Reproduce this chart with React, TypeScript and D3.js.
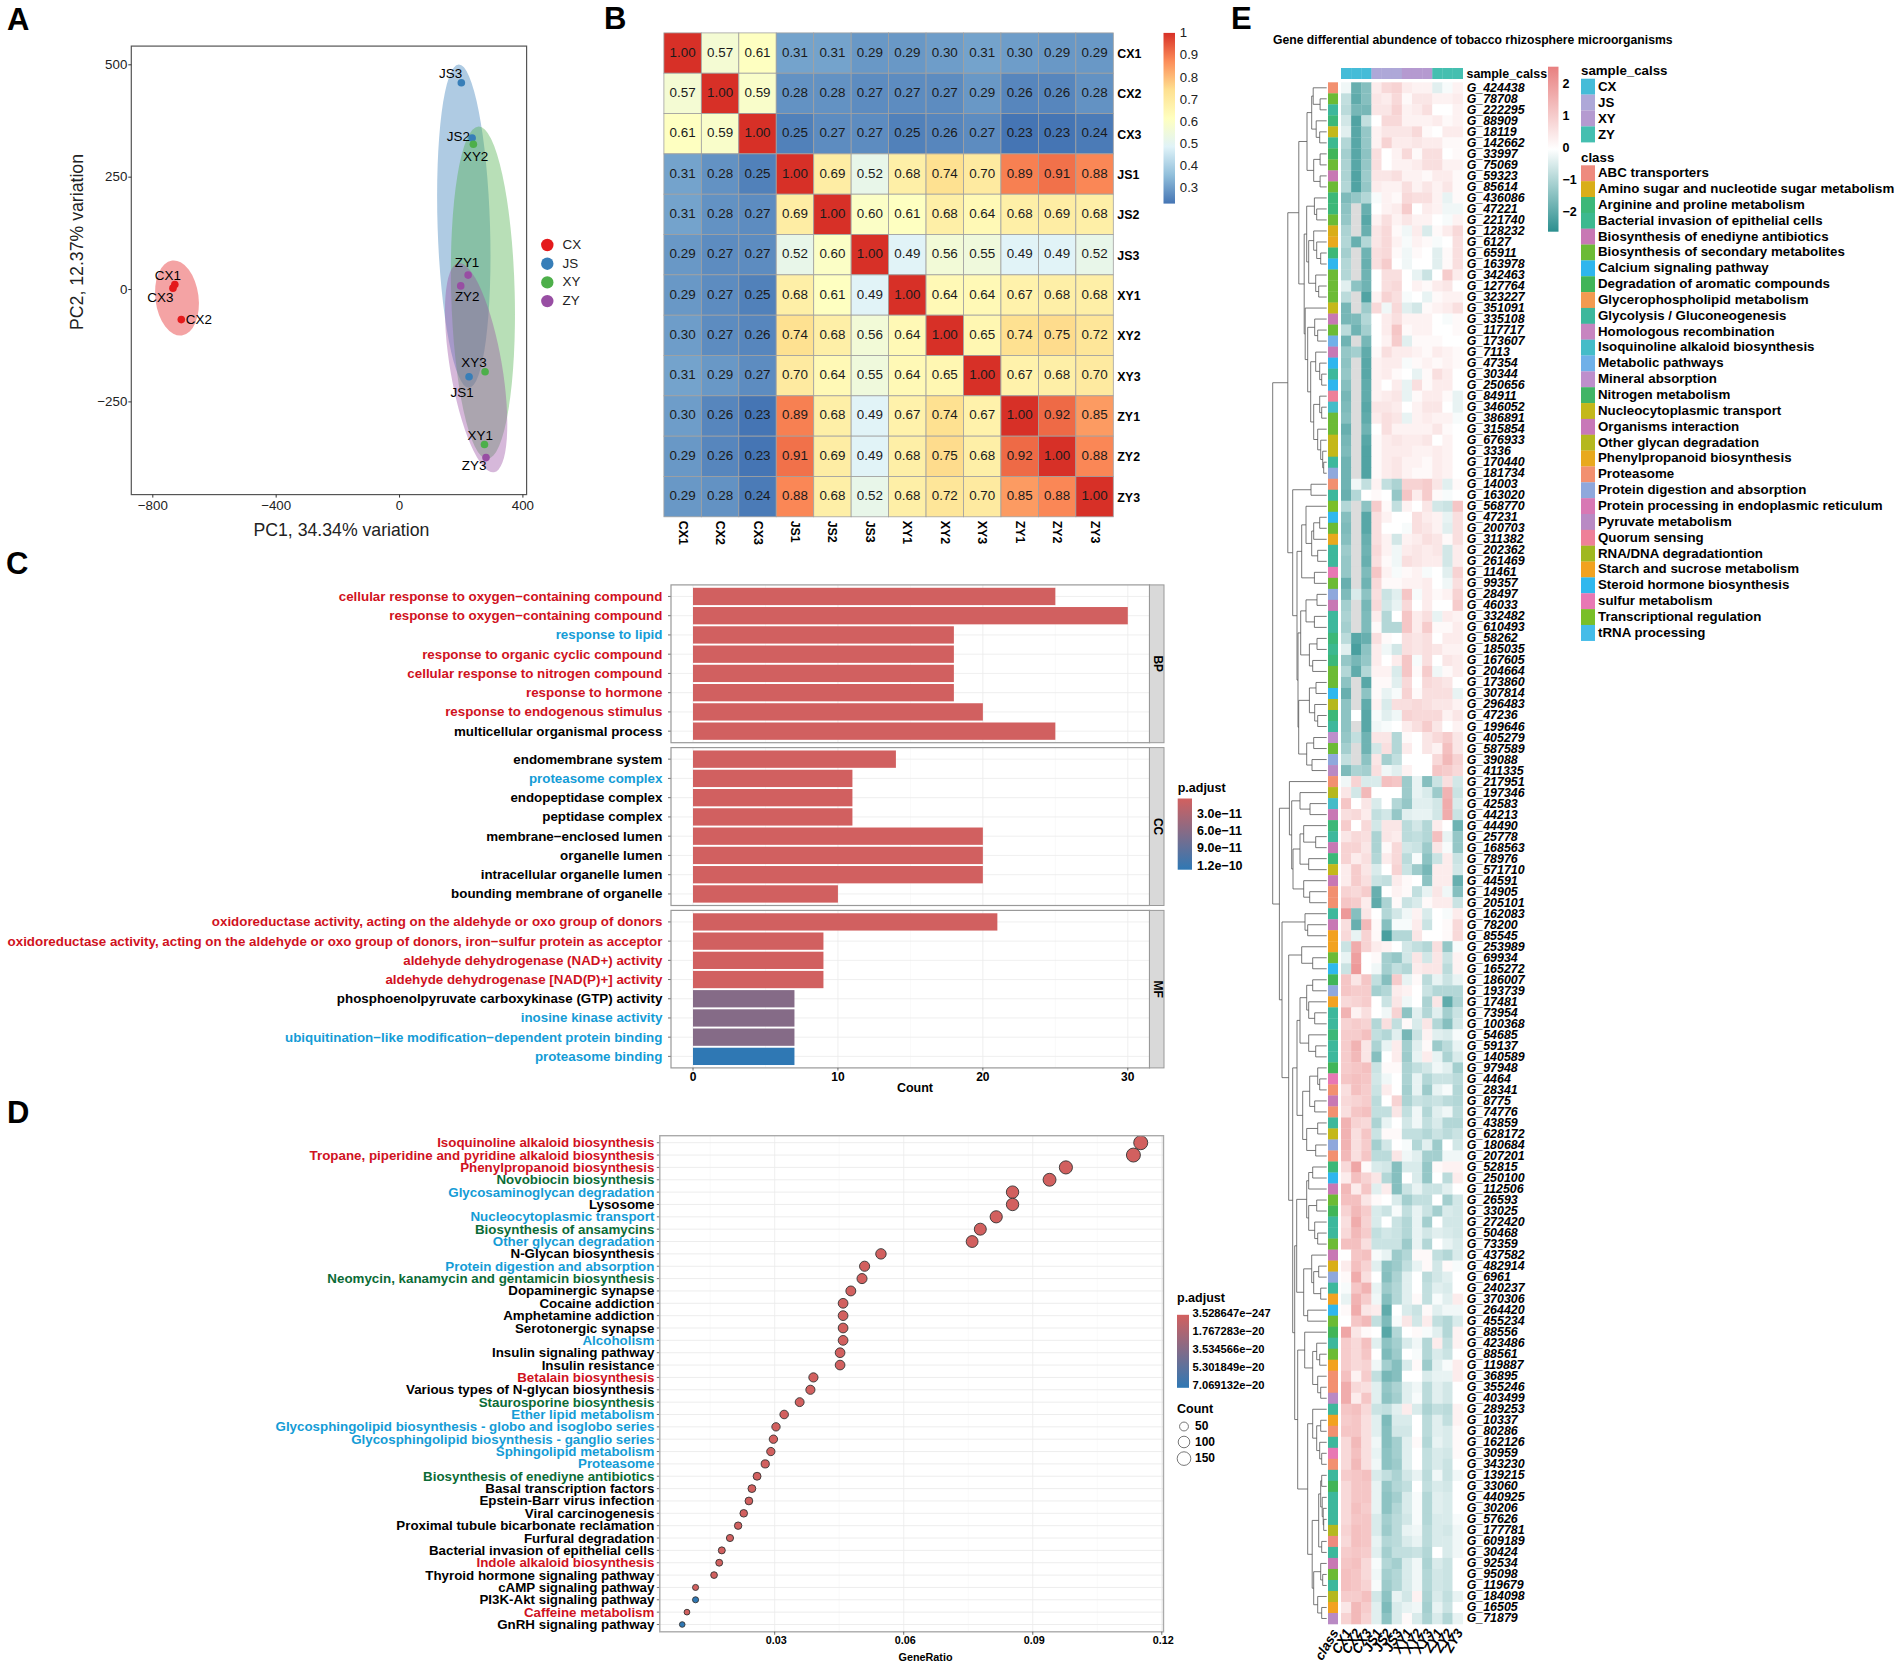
import React, { useEffect, useRef } from 'react';
import * as d3 from 'd3';

const FONT = '"Liberation Sans", Arial, sans-serif';

// ---- Panel A data
const pcaSamples = ['CX1', 'CX2', 'CX3', 'JS1', 'JS2', 'JS3', 'XY1', 'XY2', 'XY3', 'ZY1', 'ZY2', 'ZY3'];
const pcaGroups = ['CX', 'JS', 'XY', 'ZY'];
const pcaColors = ['#E41A1C', '#377EB8', '#4DAF4A', '#984EA3'];
const pc1 = [-727, -706, -733, 227, 237, 202, 277, 241, 279, 224, 200, 282];
const pc2 = [10, -68, 2, -195, 336, 459, -346, 322, -184, 31, 7, -375];
const pcaLabelDx = [-7, 17.6, -12.6, -6.9, -13.8, -10.7, -4.2, 2.3, -11.1, -1.1, 6.5, -11.9];
const pcaLabelDy = [-9.3, -0.4, 9.6, 16, -1.8, -9.3, -9.3, 12.5, -9.3, -12.1, 10.4, 7.9];
// group ellipses: centre, radii (data units), tilt
const ellipseCx = [-720, 210, 272, 250];
const ellipseCy = [-20, 140, -8, -175];
const ellipseRx = [70, 85, 103, 84];
const ellipseRy = [84, 360, 370, 236];
const ellipseTilt = [-7.4, -1.8, -1.5, -9.7];

// ---- Panel B data
const corr = [
  [1.0, 0.57, 0.61, 0.31, 0.31, 0.29, 0.29, 0.3, 0.31, 0.3, 0.29, 0.29],
  [0.57, 1.0, 0.59, 0.28, 0.28, 0.27, 0.27, 0.27, 0.29, 0.26, 0.26, 0.28],
  [0.61, 0.59, 1.0, 0.25, 0.27, 0.27, 0.25, 0.26, 0.27, 0.23, 0.23, 0.24],
  [0.31, 0.28, 0.25, 1.0, 0.69, 0.52, 0.68, 0.74, 0.7, 0.89, 0.91, 0.88],
  [0.31, 0.28, 0.27, 0.69, 1.0, 0.6, 0.61, 0.68, 0.64, 0.68, 0.69, 0.68],
  [0.29, 0.27, 0.27, 0.52, 0.6, 1.0, 0.49, 0.56, 0.55, 0.49, 0.49, 0.52],
  [0.29, 0.27, 0.25, 0.68, 0.61, 0.49, 1.0, 0.64, 0.64, 0.67, 0.68, 0.68],
  [0.3, 0.27, 0.26, 0.74, 0.68, 0.56, 0.64, 1.0, 0.65, 0.74, 0.75, 0.72],
  [0.31, 0.29, 0.27, 0.7, 0.64, 0.55, 0.64, 0.65, 1.0, 0.67, 0.68, 0.7],
  [0.3, 0.26, 0.23, 0.89, 0.68, 0.49, 0.67, 0.74, 0.67, 1.0, 0.92, 0.85],
  [0.29, 0.26, 0.23, 0.91, 0.69, 0.49, 0.68, 0.75, 0.68, 0.92, 1.0, 0.88],
  [0.29, 0.28, 0.24, 0.88, 0.68, 0.52, 0.68, 0.72, 0.7, 0.85, 0.88, 1.0],
];
const corrTicks = [1, 0.9, 0.8, 0.7, 0.6, 0.5, 0.4, 0.3];
const rdYlBu = ['#4575B4', '#91BFDB', '#E0F3F8', '#FFFFBF', '#FEE090', '#FC8D59', '#D73027'];

// ---- Panel C data
const labelColors: Record<string, string> = { r: '#D0121E', b: '#149CD6', k: '#000000', g: '#0B6B36' };
const goBP = ['cellular response to oxygen−containing compound', 'response to oxygen−containing compound', 'response to lipid', 'response to organic cyclic compound', 'cellular response to nitrogen compound', 'response to hormone', 'response to endogenous stimulus', 'multicellular organismal process'];
const goBPCount = [25, 30, 18, 18, 18, 18, 20, 25];
const goBPTone = 'rrbrrrrk';
const goCC = ['endomembrane system', 'proteasome complex', 'endopeptidase complex', 'peptidase complex', 'membrane−enclosed lumen', 'organelle lumen', 'intracellular organelle lumen', 'bounding membrane of organelle'];
const goCCCount = [14, 11, 11, 11, 20, 20, 20, 10];
const goCCTone = 'kbkkkkkk';
const goMF = ['oxidoreductase activity, acting on the aldehyde or oxo group of donors', 'oxidoreductase activity, acting on the aldehyde or oxo group of donors, iron−sulfur protein as acceptor', 'aldehyde dehydrogenase (NAD+) activity', 'aldehyde dehydrogenase [NAD(P)+] activity', 'phosphoenolpyruvate carboxykinase (GTP) activity', 'inosine kinase activity', 'ubiquitination−like modification−dependent protein binding', 'proteasome binding'];
const goMFCount = [21, 9, 9, 9, 7, 7, 7, 7];
const goMFTone = 'rrrrkbbb';
const goMFPadj = [0.5e-11, 0.5e-11, 0.5e-11, 0.5e-11, 6.2e-11, 6.2e-11, 6.2e-11, 1.27e-10];
const goFacets = ['BP', 'CC', 'MF'];
const goTicks = [0, 10, 20, 30];
const goPadjTicks = [3e-11, 6e-11, 9e-11, 1.2e-10];
const goPadjLabels = ['3.0e−11', '6.0e−11', '9.0e−11', '1.2e−10'];

// ---- Panel D data
const kegg = ['Isoquinoline alkaloid biosynthesis', 'Tropane, piperidine and pyridine alkaloid biosynthesis', 'Phenylpropanoid biosynthesis', 'Novobiocin biosynthesis', 'Glycosaminoglycan degradation', 'Lysosome', 'Nucleocytoplasmic transport', 'Biosynthesis of ansamycins', 'Other glycan degradation', 'N-Glycan biosynthesis', 'Protein digestion and absorption', 'Neomycin, kanamycin and gentamicin biosynthesis', 'Dopaminergic synapse', 'Cocaine addiction', 'Amphetamine addiction', 'Serotonergic synapse', 'Alcoholism', 'Insulin signaling pathway', 'Insulin resistance', 'Betalain biosynthesis', 'Various types of N-glycan biosynthesis', 'Staurosporine biosynthesis', 'Ether lipid metabolism', 'Glycosphingolipid biosynthesis - globo and isoglobo series', 'Glycosphingolipid biosynthesis - ganglio series', 'Sphingolipid metabolism', 'Proteasome', 'Biosynthesis of enediyne antibiotics', 'Basal transcription factors', 'Epstein-Barr virus infection', 'Viral carcinogenesis', 'Proximal tubule bicarbonate reclamation', 'Furfural degradation', 'Bacterial invasion of epithelial cells', 'Indole alkaloid biosynthesis', 'Thyroid hormone signaling pathway', 'cAMP signaling pathway', 'PI3K-Akt signaling pathway', 'Caffeine metabolism', 'GnRH signaling pathway'];
const keggTone = 'rrrgbkbgbkbgkkkkbkkrkgbbbbbgkkkkkkrkkkrk';
const keggRatio = [0.1151, 0.1134, 0.0977, 0.0939, 0.0853, 0.0853, 0.0815, 0.0778, 0.0759, 0.0547, 0.0509, 0.0503, 0.0477, 0.0459, 0.0459, 0.0459, 0.0459, 0.0452, 0.0452, 0.039, 0.0383, 0.0358, 0.0322, 0.0303, 0.0297, 0.0291, 0.0278, 0.0259, 0.0247, 0.024, 0.0228, 0.0215, 0.0196, 0.0177, 0.0171, 0.0159, 0.0116, 0.0116, 0.0096, 0.0085];
const keggCount = [161, 159, 137, 131, 119, 119, 114, 109, 106, 77, 71, 70, 67, 64, 64, 64, 64, 63, 63, 55, 54, 50, 45, 42, 42, 41, 39, 36, 35, 34, 32, 30, 27, 25, 24, 22, 16, 16, 13, 12];
const keggBlue = ['PI3K-Akt signaling pathway', 'GnRH signaling pathway'];
const keggTicks = [0.03, 0.06, 0.09, 0.12];
const keggMinor = [0.015, 0.045, 0.075, 0.105];
const keggPadjLabels = ['3.528647e−247', '1.767283e−20', '3.534566e−20', '5.301849e−20', '7.069132e−20'];
const keggSizeLegend = [50, 100, 150];

// ---- Panel E data
const geneIds = [424438, 78708, 222295, 88909, 18119, 142662, 33997, 75069, 59323, 85614, 436086, 47221, 221740, 128232, 6127, 65911, 163978, 342463, 127764, 323227, 351091, 335108, 117717, 173607, 7113, 47354, 30344, 250656, 84911, 346052, 386891, 315854, 676933, 3336, 170440, 181734, 14003, 163020, 568770, 47231, 200703, 311382, 202362, 261469, 11461, 99357, 28497, 46033, 332482, 610493, 58262, 185035, 167605, 204664, 173860, 307814, 296483, 47236, 199646, 405279, 587589, 39088, 411335, 217951, 197346, 42583, 44213, 44490, 25778, 168563, 78976, 571710, 44591, 14905, 205101, 162083, 78200, 85545, 253989, 69934, 165272, 186007, 193739, 17481, 73954, 100368, 54685, 59137, 140589, 97948, 4464, 28341, 8775, 74776, 43859, 628172, 180684, 207201, 52815, 250100, 112506, 26593, 33025, 272420, 50468, 73359, 437582, 482914, 6961, 240237, 370306, 264420, 455234, 88556, 423486, 88561, 119887, 36895, 355246, 403499, 289253, 10337, 80286, 162126, 30959, 343230, 139215, 33060, 440925, 30206, 57626, 177781, 609189, 30424, 92534, 95098, 119679, 184098, 16505, 71879];
const sampleGroups = ['CX', 'JS', 'XY', 'ZY'];
const sampleGroupColors = ['#45BCD8', '#AEA8D8', '#B59AD0', '#45BFB0'];
const classNames = ['ABC transporters', 'Amino sugar and nucleotide sugar metabolism', 'Arginine and proline metabolism', 'Bacterial invasion of epithelial cells', 'Biosynthesis of enediyne antibiotics', 'Biosynthesis of secondary metabolites', 'Calcium signaling pathway', 'Degradation of aromatic compounds', 'Glycerophospholipid metabolism', 'Glycolysis / Gluconeogenesis', 'Homologous recombination', 'Isoquinoline alkaloid biosynthesis', 'Metabolic pathways', 'Mineral absorption', 'Nitrogen metabolism', 'Nucleocytoplasmic transport', 'Organisms interaction', 'Other glycan degradation', 'Phenylpropanoid biosynthesis', 'Proteasome', 'Protein digestion and absorption', 'Protein processing in endoplasmic reticulum', 'Pyruvate metabolism', 'Quorum sensing', 'RNA/DNA degradationtion', 'Starch and sucrose metabolism', 'Steroid hormone biosynthesis', 'sulfur metabolism', 'Transcriptional regulation', 'tRNA processing'];
const classColors = ['#EE8A7E', '#D9AE18', '#3CB878', '#3DB98F', '#C878B4', '#6CBB35', '#2FB6EE', '#41B558', '#F39A50', '#3DB89C', '#C785C0', '#45BCC8', '#70B0E8', '#BE8FCC', '#41B566', '#C4B81A', '#C878B8', '#B5B81E', '#E8A91E', '#F29070', '#8FA8DC', '#D878B4', '#B98AC4', '#EE8098', '#A0B820', '#F2A220', '#30B8EE', '#E878B4', '#7ABF28', '#45BCE8'];
const rowClass = [19, 5, 9, 2, 15, 3, 7, 5, 4, 5, 2, 2, 5, 1, 18, 2, 6, 5, 5, 5, 15, 4, 5, 12, 4, 6, 9, 6, 23, 11, 5, 5, 15, 15, 9, 20, 19, 9, 28, 26, 5, 18, 9, 9, 27, 5, 20, 4, 9, 9, 2, 3, 2, 5, 5, 26, 17, 2, 9, 13, 5, 20, 22, 19, 17, 11, 4, 2, 9, 4, 2, 15, 4, 19, 19, 9, 4, 25, 25, 5, 26, 7, 20, 25, 9, 9, 2, 9, 9, 7, 27, 19, 4, 19, 9, 15, 20, 19, 2, 6, 4, 5, 7, 9, 9, 5, 4, 1, 20, 9, 25, 6, 5, 7, 9, 5, 25, 19, 19, 22, 9, 25, 19, 9, 27, 19, 9, 7, 9, 9, 9, 17, 0, 9, 4, 5, 9, 17, 25, 22];
const heatTicks = [2, 1, 0, -1, -2];
const heatLabels = ['2', '1', '0', '−1', '−2'];
const _ = null;
const heatValues: (number | null)[][] = [
  [-.2, -2, -1.6, .3, .6, .7, .3, .2, .2, -.4, -.1, .2],
  [-.8, -2.1, -1.6, .4, .3, .6, .1, .4, .4, .2, .2, .3],
  [-.9, -1.8, -1.8, .4, .4, .7, .2, .3, .5, 0, 0, .2],
  [-.6, -2.3, -.8, 0, .6, .6, .2, .2, .2, .3, .1, .2],
  [-.4, -2.2, -1.4, .2, .4, .4, .4, .6, .1, 0, .3, .3],
  [-1, -2.2, -1.4, .2, .7, .3, .3, .4, .3, .3, .1, .1],
  [-1.2, -2.2, -1.5, .5, 0, .2, .6, .1, .5, .5, 0, .1],
  [-1.1, -2.2, -1.4, .5, 0, .2, .2, .3, .5, .5, .2, .2],
  [-1.1, -2.3, -1.3, .4, .4, .5, .2, .2, .1, .3, .3, .1],
  [-1, -2.3, -1.4, .3, .2, .2, .5, .2, .4, .2, .4, .1],
  [-1.7, -1.4, -1, -.1, .2, .1, .6, .5, .5, .2, -.3, .1],
  [-1.5, _, -2, 0, .2, .3, .8, 0, .3, .2, -.2, -.2],
  [-1.4, _, -2.2, .2, .5, .2, .4, .2, .2, 0, -.1, .2],
  [-1.1, _, -2, .4, .6, .1, -.2, .3, -.5, .1, .3, .6],
  [-1, -2, -1, .4, .6, .2, -.1, .2, .1, -.1, 0, .5],
  [-1.2, _, -1.9, .5, .6, .1, -.2, .1, 0, -.4, .1, .5],
  [-1, _, -2, .5, .8, 0, -.2, 0, 0, -.4, .1, .5],
  [-1, _, -1.9, 0, .5, .5, 0, -.3, -.7, 0, .8, .3],
  [-.4, -1.5, -1.9, 0, .5, .6, 0, .2, .1, .3, .4, 0],
  [-.9, _, -2.3, .2, .7, .5, -.1, 0, -.3, .1, .2, .2],
  [-1.8, _, -1.3, .6, -.2, .6, -.4, -.6, .1, .2, .3, .5],
  [-1.8, -1.7, -1, 0, .3, .5, .2, .2, .2, 0, -.1, .1],
  [-.9, -1.9, -1.2, 0, .3, .9, .1, .2, .2, 0, 0, .1],
  [-1.9, _, -1.8, 0, .2, .8, -.4, .1, .1, .1, 0, 0],
  [-1.4, -1.2, -2.1, .1, .5, .3, .3, .2, .1, .3, .2, .1],
  [-1.5, _, -2.2, .2, .3, .3, -.1, .1, .2, .1, .2, .1],
  [-1.4, _, -2.2, .2, .3, .1, 0, -.3, .1, .5, .3, 0],
  [-1.6, _, -2.1, .2, 0, .3, -.3, .5, .1, .3, .3, 0],
  [-1.8, _, -2.1, .2, .3, .4, -.3, .1, .3, .3, .1, -.3],
  [-1.7, _, -2.2, .4, .4, .3, 0, .2, .4, .4, 0, -.3],
  [-1.6, _, -2.1, .3, .5, .4, -.3, .2, .3, .2, .2, -.1],
  [-2, _, -1.9, 0, .5, .2, .2, .2, .2, .4, .1, 0],
  [-1.8, _, -2.2, .1, .3, .4, .3, .3, .4, 0, .2, 0],
  [-1.7, _, -2.3, .1, .3, .3, .3, .2, .2, .3, .2, 0],
  [-1.9, _, -2.3, .1, .3, .4, .2, .2, .1, .3, .2, 0],
  [-1.9, _, -2.3, .1, .3, .4, .2, .1, .1, .3, .2, 0],
  [-1.9, -.2, -.8, .2, -.8, -1.1, .7, .7, .8, .4, -.4, .1],
  [-2, -1, 0, .1, 0, -1.4, .9, .3, .8, .1, -.1, 0],
  [-1, _, -1.5, .8, .1, -.8, .2, 0, .4, -.6, -.7, .9],
  [-1.6, _, -2.2, .5, .2, 0, 0, .5, .3, .2, -.3, .5],
  [-1.7, _, -2.2, .5, 0, 0, -.1, .5, .4, .2, -.4, .5],
  [-1.6, _, -2, .5, .2, -.6, .2, .3, .5, .4, .1, .5],
  [-1.3, _, -1.9, .6, .2, -.2, .3, .4, .3, .4, -.6, .3],
  [-1.4, _, -2, .5, .1, -.2, .5, .4, .3, .3, -.6, .3],
  [-1.4, _, -1.7, .9, .2, -.1, .1, .2, -.1, 0, -.4, .7],
  [-2, _, -1.9, .6, .1, .1, .2, .2, .3, 0, -.2, .5],
  [-1.7, -.5, -1.5, .5, -.7, -.4, .9, -.1, .3, .1, .2, .7],
  [-1.2, _, -1.8, .6, -.6, -.3, .6, 0, .3, 0, 0, .8],
  [-1.1, _, -1.7, .3, -1, 0, .9, .3, .5, -.3, .3, .2],
  [-1.2, _, -1.7, .1, -1, -1, .9, .3, .8, .1, .1, .3],
  [-.9, -2.2, -2, .5, .1, 0, .5, .4, .5, 0, .3, .3],
  [-.4, -2.4, -1.5, .3, -.2, -.6, .5, .4, .5, .4, .2, .2],
  [-1.4, -1.8, -1.4, .3, 0, .3, .9, -.1, .5, 0, .4, .3],
  [-1, -2.1, -1, .2, .2, -.5, .9, .1, .8, -.2, .1, .3],
  [-1.5, _, -2.2, .1, .1, -.4, .6, 0, .6, .5, .4, 0],
  [-2, _, -1.5, .1, -.3, -.1, .7, .1, .5, .5, .5, -.3],
  [-1.5, _, -2.1, .2, -.5, .5, .5, .6, .5, .4, .4, .2],
  [-1.5, 0, -2.2, -.1, -.4, -.2, .7, .6, .6, .6, .2, .4],
  [-1.5, _, -2.2, -.2, -.1, 0, .3, .5, .8, .4, 0, .2],
  [-1.4, -.8, -1.9, .4, .4, -1, .1, 0, .4, .6, .8, .4],
  [-1.2, _, -1.9, -.6, .5, -1, .3, 0, .4, .2, 1, .4],
  [-.8, _, -1.5, .4, -1.2, -.8, 0, 0, 0, .6, 1.1, .7],
  [-1.7, -1.1, -1.2, .5, -.2, -.4, .2, 0, 0, .9, .8, .6],
  [-.2, .7, -.5, -.5, 1, .9, -1.3, -.3, -1.6, -.7, .5, -.6],
  [.4, -.6, 1.1, 0, 0, 0, -1.3, -.3, -.5, -1.3, 1.2, -.7],
  [.9, 0, .4, -.5, 0, -1, -1.4, -.4, -.4, -.6, 1.3, -.5],
  [.5, .6, .3, -.8, -.6, -1.4, -.4, -.3, -.3, -.6, 1.3, -.7],
  [.8, 0, .6, -.6, .4, .4, -.9, -.6, -1, .3, 0, -1.9],
  [.4, .6, .5, -1.1, .4, .3, -.9, -.8, -1, 1, -.3, -1.4],
  [.7, .7, .4, -1.1, .1, .6, -.6, -.7, -1.3, .4, -.1, -1.4],
  [.7, .3, .5, -1, .3, .6, -.9, -.1, -1.5, -.7, .3, -.7],
  [.3, .8, .4, -.5, 0, .7, -.7, -1.3, -1.8, .3, .3, -.6],
  [.3, .8, .5, -.7, -.8, .3, .1, 0, -1.5, .3, .3, -2],
  [.7, .6, .8, -2, 0, .2, .1, -.8, -.3, .4, -.2, -1.6],
  [.9, .8, .3, -2.1, -1.1, .1, -.7, -.5, .1, .3, .3, -.7],
  [1.6, -1.6, .4, 0, -1, -.6, -.2, .2, -.5, 0, -.1, .3],
  [.5, -2, 1.1, .1, -1.6, -.1, -.1, .3, -.7, 0, .1, .6],
  [.6, -.3, .7, .1, -2.4, -1, -1, .4, 0, 0, .1, .6],
  [-.7, 1.3, .7, .3, .2, 0, -.6, -.8, -1, .5, -1.4, -.1],
  [-.3, 1.5, 0, .1, -1.2, -1.4, -.6, .4, -.6, .4, -.7, .2],
  [-.7, 1.6, 0, -.2, -1.2, -.8, -1, .3, .4, .4, -.9, .2],
  [.9, .4, .9, -.8, -1.6, .8, -.3, .1, -.9, -.3, -.7, -.3],
  [.9, .8, .8, -1.2, -1, .3, .2, 0, -.7, -1, -1, -1],
  [.6, .7, .8, 0, -.7, .4, -.2, 0, -1.1, .4, -2.1, -1.1],
  [1.2, .2, .5, 0, -.2, .7, -1.5, -.4, -1, -.4, -1.2, -.7],
  [.7, .8, .7, -1, .5, -.8, .1, -.5, .4, -1, -1.6, -.6],
  [.8, .8, 1, -.8, -1, -.4, -1.8, -.7, .2, -.4, -.5, -.1],
  [.8, 1.2, .4, -1.1, -.3, .3, -1.2, -.4, .1, -1.3, -.9, -.3],
  [.8, 1.1, .4, -1.6, 0, .3, -1.3, -.3, .3, -.3, -1.1, -.5],
  [.8, .9, 1, -.7, .1, .1, -1.1, -.8, -.6, -.2, -.4, -1.2],
  [.9, 1, .9, -.6, -.2, 0, -1.1, -.3, -1, -.7, -.7, -.9],
  [.5, 1, .8, -.7, .3, 0, -1.2, -.3, -1.3, -.3, -.1, -1],
  [.6, .7, .8, -.9, 0, .7, -1.1, -.7, -.8, -.7, -.9, -1],
  [.5, .9, 1, -.8, -.8, .4, -.8, -.2, -1, -.4, -.2, -.9],
  [1.2, .7, .6, -1.1, -.3, 0, -.6, -.2, -.8, -.5, -1, -1],
  [1.2, .5, .9, -.7, .1, .1, -.8, -.8, -1, -.7, -.9, -.7],
  [1.2, .5, .8, -1.2, -.6, 0, -.1, -1, -.4, -1.3, 0, -.6],
  [1.1, .5, .9, -.9, -.9, .4, -.2, -.4, -1.2, -1.2, -.2, -.2],
  [.6, 1.4, .1, -.5, -.6, -1.6, -.5, -.5, -1.4, .1, .2, .2],
  [.3, 1, .7, .4, -1, -1.6, 0, -.5, -1.4, 0, -.9, .3],
  [1.1, .3, .9, -.4, .3, -1.6, -.7, -.3, -.7, -.7, -.4, 0],
  [1, 1, .4, .1, 0, -.5, -1.2, -.8, -.8, 0, -1.2, -.6],
  [.7, 1.1, .8, -.5, -.7, -.1, -.8, -.3, -.7, -1.2, -.5, -.6],
  [.5, 1.3, .7, -.5, 0, -.7, -1, -.3, -1.2, 0, -.6, -.6],
  [.6, 1.1, .8, -.8, -.6, -.7, -1, -.3, -.6, -.4, -.5, -.6],
  [1, 1, .5, -.7, -.7, -.7, -1.3, -.3, -1, 0, -.3, -.5],
  [0, .9, 1, -.1, -.3, -1.3, -1, .1, .1, -.8, -1, -.5],
  [.3, 1, .7, -.4, -1.5, -1.3, -.8, -.3, .1, -.6, .1, -.1],
  [.1, 1.3, .5, 0, -1.6, -1.1, -.4, 0, -.9, -.6, -.4, 0],
  [-.1, .9, 1.2, -.3, -1.3, -1, -.4, 0, -.8, -.4, -.5, 0],
  [-.3, 1.2, .8, -.2, -1.6, -1, -.4, .1, -.8, -.1, -.4, .3],
  [.1, 1.3, .4, .3, -2.1, 0, -.5, -.7, .1, -.4, -.2, -.2],
  [0, .9, 1.1, -.8, -1.7, -.1, .4, -.6, .3, -.8, -1, -.5],
  [1.4, .4, .1, 0, -2.2, -1, 0, .1, -.1, -.4, -1, .2],
  [.8, .6, 1, -.4, -1.5, -1.2, -.5, -.2, -1, .3, -.8, .2],
  [.8, .6, .9, 0, -1.7, -1.3, 0, -.1, -1, -.5, -.7, 0],
  [.8, .6, .7, -.2, -1.2, -1.6, -.5, .1, -1.3, -.4, -.1, .3],
  [1, .2, .8, -.8, -1.8, -1.6, 0, 0, -.5, -.3, -.3, .3],
  [1.3, .6, .5, -.4, -1.4, -1.1, -.4, -.2, -.9, -.4, -.6, 0],
  [1.3, .3, .9, -.4, -1.5, -1.2, -.4, -.1, -.9, -.4, -.6, 0],
  [.9, 1, .6, -.7, -.8, -.4, .3, -.5, -1.1, -.8, -.9, .2],
  [.8, .9, .5, -.4, -1.7, -.5, -.5, 0, -.9, -.4, -.8, .2],
  [.9, .9, .5, -.4, -1.6, -.6, -.6, 0, -.9, -.4, -.5, .1],
  [.6, 1.1, .5, -.2, -1.6, -1.2, -.4, .1, -1, -.3, -.5, .1],
  [.6, 1, .5, -.3, -1.5, -1.2, -.4, 0, -.8, -.5, -.6, .1],
  [.6, 1.1, .5, -.2, -1.5, -1.3, -.4, 0, -.8, -.5, -.7, 0],
  [.8, .9, 1, -.5, -.8, -1.1, -.6, -.3, -.9, -.2, -.7, -.2],
  [.6, .9, .9, -.3, -1.4, -1, -.8, 0, -.8, -.5, -.6, 0],
  [.6, .9, .9, -.3, -1.5, -1.2, -.5, -.1, -1, -.4, -.5, 0],
  [.6, 1, .8, -.3, -1.5, -1, -.5, -.1, -1, -.4, -.5, 0],
  [.6, .9, .9, -.5, -1.2, -.9, -.6, -.1, -1, -.5, -.5, -.1],
  [.7, 1, .9, -.5, -1.3, -.9, -.3, -.2, -.9, -.5, -.6, -.2],
  [.6, 1, .9, -.3, -1, -.9, -.5, -.3, -.9, -.5, -.5, -.2],
  [.8, .9, .8, -.4, -1.2, -.8, -.8, -.7, -1, 0, -.5, -.2],
  [.9, 1, .6, -.1, -1, -1.2, -.5, -.2, -1.1, -.5, -.7, 0],
  [1, .9, .6, -.2, -1.2, -1, -.5, -.2, -1, -.6, -.7, 0],
  [1, .9, .7, -.1, -1.3, -1, -.5, -.2, -1, -.6, -.7, 0],
  [.8, .8, 1, -.6, -1.5, -.3, -.6, .2, -1.1, -.5, -.8, -.3],
  [.4, 1.1, .8, -.4, -1.7, -.5, -.3, -.2, -1.2, -.3, -.7, 0],
  [.7, 1.1, .7, -.4, -1.5, -.5, .1, -.5, -1.1, -.5, -1, -.3],
];

// row dendrogram: [merge height, left, right], leaves are 1-based row numbers
type TreeNode = number | [number, TreeNode, TreeNode];
const treeTop1: TreeNode = [19.7, [15, [13.5, 1, [6.6, 2, 3]], [10.5, 4, [7, 5, 6]]], [13, [6.6, 7, 8], [6.6, 9, 10]]];
const treeTop2: TreeNode = [22.5,
  [20, [12.3, 11, [10, 12, 13]], [18, [13, 14, [10, 15, [6, 16, 17]]], [11, 18, [8, 19, 20]]]],
  [21.5, 21, [19, [12, 22, [9, 23, 24]], [16, [11, 25, [7, 26, [5, 27, 28]]], [13, [7, 29, [5, 30, 31]], [9, 32, [6, 33, [4, 34, [3, 35, 36]]]]]]]]];
const treeTop3: TreeNode = [34, [15.7, 37, 38], [29.7,
  [25, [20.7, 39, [15, [13, [7, 40, 41], 42], [9, 43, 44]]], [12.3, 45, 46]],
  [28.7, [26, [20.7, [9.7, 47, 48], [12.3, 49, 50]], [17.3, [9.7, 51, 52], [14, 53, 54]]],
    [28, [17.3, [10.7, 55, 56], [12, 57, [9, 58, 59]]], [20, [13, 60, 61], [14.7, 62, 63]]]]]];
const treeLow1: TreeNode = [37.3, 64, [35, [26.7, 65, [16.7, 66, 67]], [33.7, [26.7, [23, 68, [11, 69, 70]], [18, 71, 72]], [23, 73, [17, 74, 75]]]]];
const treeLow2: TreeNode = [29.7,
  [26.7, [20, [14, 82, 83], [18, 84, [12, 85, 86]]], [18, 87, [11, 88, 89]]],
  [24, [17, [9, 90, [7, 91, 92]], [12, 93, 94]], [20, [9, 95, 96], [11, 97, 98]]]];
const treeLow3: TreeNode = [32,
  [30, [20, [18, [14, 99, 100], 101], [18, [10, 102, 103], [12, 104, [9, 105, 106]]]],
    [23, [15, 107, [13, [8, 108, 109], [6, 110, 111]]], [19, 112, 113]]],
  [29, [22, 114, [14, [10, 115, [7, 116, 117]], [9, 118, [6, 119, 120]]]],
    [19, [14, 121, [10, [6, 122, 123], [7, 124, [5, 125, 126]]]],
      [14.5, [8, [6, [5, 127, 128], [4.5, 129, [3.5, 130, [3, 131, 132]]]], [5, 133, 134]],
        [13, [6, 135, [4, 136, 137]], [9, 138, [5, 139, 140]]]]]]];
const rowTree: TreeNode = [54,
  [38.9, [27.9, treeTop1, treeTop2], treeTop3],
  [47.3, treeLow1, [44.7, [21.7, 76, [19, 77, 78]], [38, [25, 79, [14, 80, 81]], [34, treeLow2, treeLow3]]]]];

type Sel = d3.Selection<any, any, any, any>;

function label(g: Sel, x: number, y: number, s: string, size: number, opts: any = {}) {
  const t = g.append('text')
    .attr('x', x).attr('y', y)
    .attr('font-family', FONT)
    .attr('font-size', size)
    .attr('dominant-baseline', 'central')
    .attr('text-anchor', opts.anchor || 'start')
    .attr('font-weight', opts.weight || 'normal')
    .attr('font-style', opts.style || 'normal')
    .attr('fill', opts.fill || '#000')
    .text(s);
  if (opts.rotate !== undefined) t.attr('transform', `rotate(${opts.rotate},${x},${y})`);
  return t;
}

function gradient(svg: Sel, id: string, stops: [number, string][]) {
  const lg = svg.append('defs').append('linearGradient').attr('id', id)
    .attr('x1', 0).attr('x2', 0).attr('y1', 0).attr('y2', 1);
  stops.forEach(([o, c]) => lg.append('stop').attr('offset', o).attr('stop-color', c));
}

function drawPCA(svg: Sel) {
  const g = svg.append('g');
  const x = d3.scaleLinear().domain([-800, 400]).range([152.3, 522.4]);
  const y = d3.scaleLinear().domain([-250, 500]).range([401.4, 64.3]);
  const pxX = (400 - -800) / (522.4 - 152.3);
  const pxY = 750 / (401.4 - 64.3);

  pcaGroups.forEach((_g, i) => {
    g.append('ellipse')
      .attr('cx', x(ellipseCx[i])).attr('cy', y(ellipseCy[i]))
      .attr('rx', ellipseRx[i] / pxX).attr('ry', ellipseRy[i] / pxY)
      .attr('transform', `rotate(${ellipseTilt[i]},${x(ellipseCx[i])},${y(ellipseCy[i])})`)
      .attr('fill', pcaColors[i]).attr('fill-opacity', 0.4);
  });
  g.append('rect').attr('x', 131.3).attr('y', 46.1).attr('width', 395.3).attr('height', 448.5)
    .attr('fill', 'none').attr('stroke', '#555').attr('stroke-width', 1.2);

  const ax = g.append('g').attr('transform', 'translate(0,494.6)')
    .call(d3.axisBottom(x).tickValues([-800, -400, 0, 400]).tickSize(3).tickPadding(3));
  const ay = g.append('g').attr('transform', 'translate(131.3,0)')
    .call(d3.axisLeft(y).tickValues([-250, 0, 250, 500]).tickSize(3).tickPadding(1));
  [ax, ay].forEach((a) => {
    a.select('.domain').remove();
    a.selectAll('line').attr('stroke', '#333');
    a.selectAll('text').attr('font-family', FONT).attr('font-size', 13.3).attr('fill', '#222');
  });

  pcaSamples.forEach((s, i) => {
    const grp = pcaGroups.indexOf(s.slice(0, 2));
    g.append('circle').attr('cx', x(pc1[i])).attr('cy', y(pc2[i])).attr('r', 3.8).attr('fill', pcaColors[grp]);
    label(g, x(pc1[i]) + pcaLabelDx[i], y(pc2[i]) + pcaLabelDy[i], s, 13.4, { anchor: 'middle' });
  });

  label(g, 341.4, 529.6, 'PC1, 34.34% variation', 17.7, { anchor: 'middle', fill: '#222' });
  label(g, 76.5, 242, 'PC2, 12.37% variation', 17.7, { anchor: 'middle', rotate: -90, fill: '#222' });
  pcaGroups.forEach((s, i) => {
    const ly = 245 + i * 18.7;
    g.append('circle').attr('cx', 547.3).attr('cy', ly).attr('r', 6.2).attr('fill', pcaColors[i]);
    label(g, 562.6, ly - 0.5, s, 13.4, { fill: '#222' });
  });
}

function drawCorr(svg: Sel) {
  const g = svg.append('g');
  const x = d3.scaleBand().domain(pcaSamples).range([663.9, 1113.3]);
  const y = d3.scaleBand().domain(pcaSamples).range([32.9, 516.8]);
  const color = d3.scaleLinear<string>()
    .domain(rdYlBu.map((_c, i) => 0.23 + (i * 0.77) / 6))
    .range(rdYlBu).interpolate(d3.interpolateRgb);

  corr.forEach((row, r) => row.forEach((v, c) => {
    g.append('rect')
      .attr('x', x(pcaSamples[c])!).attr('y', y(pcaSamples[r])!)
      .attr('width', x.bandwidth()).attr('height', y.bandwidth())
      .attr('fill', color(v)).attr('stroke', '#A0A0A0').attr('stroke-width', 0.8);
    label(g, x(pcaSamples[c])! + x.bandwidth() / 2, y(pcaSamples[r])! + y.bandwidth() / 2 - 1, v.toFixed(2), 13.4, { anchor: 'middle', fill: '#1a1a1a' });
  }));
  pcaSamples.forEach((s) => {
    label(g, 1117.3, y(s)! + y.bandwidth() / 2 + 1, s, 12.4, { weight: 'bold' });
    label(g, x(s)! + x.bandwidth() / 2, 520.7, s, 12.4, { weight: 'bold', rotate: 90 });
  });

  const by = d3.scaleLinear().domain([1, 0.3]).range([32.9, 187.5]);
  gradient(svg, 'corrBar', rdYlBu.slice().reverse().map((c, i) => [i / 6, c] as [number, string]));
  g.append('rect').attr('x', 1163.5).attr('y', 32.9).attr('width', 11.5).attr('height', 170.7).attr('fill', 'url(#corrBar)');
  corrTicks.forEach((t) => label(g, 1179.8, by(t), String(t), 13.2, { fill: '#222' }));
}

function drawGO(svg: Sel) {
  const g = svg.append('g');
  const x = d3.scaleLinear().domain([0, 30]).range([693, 1127.8]);
  const padj = d3.scaleLinear<string>().domain([0.4e-11, 1.27e-10]).range(['#D2605F', '#2F78B4']);
  const panels = [
    { terms: goBP, counts: goBPCount, tones: goBPTone, top: 584.9, bottom: 742.7 },
    { terms: goCC, counts: goCCCount, tones: goCCTone, top: 747.6, bottom: 905.5 },
    { terms: goMF, counts: goMFCount, tones: goMFTone, top: 910.4, bottom: 1067.9 },
  ];
  const left = 671, right = 1149.5, stripR = 1164;
  panels.forEach((p, pi) => {
    const y = d3.scalePoint().domain(p.terms).range([p.top, p.bottom]).padding(0.6);
    const bar = y.step() * 0.9;
    goTicks.forEach((t) => {
      g.append('line').attr('x1', x(t)).attr('x2', x(t)).attr('y1', p.top).attr('y2', p.bottom).attr('stroke', '#EBEBEB').attr('stroke-width', 0.8);
      if (t < 30) g.append('line').attr('x1', x(t + 5)).attr('x2', x(t + 5)).attr('y1', p.top).attr('y2', p.bottom).attr('stroke', '#F2F2F2').attr('stroke-width', 0.5);
    });
    p.terms.forEach((term, i) => {
      const cy = y(term)!;
      g.append('line').attr('x1', left).attr('x2', right).attr('y1', cy).attr('y2', cy).attr('stroke', '#EBEBEB').attr('stroke-width', 0.8);
      g.append('rect').attr('x', x(0)).attr('y', cy - bar / 2).attr('width', x(p.counts[i]) - x(0)).attr('height', bar)
        .attr('fill', padj(pi === 2 ? goMFPadj[i] : 0.5e-11));
      g.append('line').attr('x1', left - 3).attr('x2', left).attr('y1', cy).attr('y2', cy).attr('stroke', '#333').attr('stroke-width', 0.7);
      label(g, left - 8.6, cy, term, 13.35, { anchor: 'end', weight: 'bold', fill: labelColors[p.tones[i]] });
    });
    g.append('rect').attr('x', left).attr('y', p.top).attr('width', right - left).attr('height', p.bottom - p.top)
      .attr('fill', 'none').attr('stroke', '#999').attr('stroke-width', 1.2);
    g.append('rect').attr('x', right).attr('y', p.top).attr('width', stripR - right).attr('height', p.bottom - p.top)
      .attr('fill', '#D9D9D9').attr('stroke', '#999').attr('stroke-width', 1);
    label(g, (right + stripR) / 2 + 1, (p.top + p.bottom) / 2, goFacets[pi], 12, { anchor: 'middle', weight: 'bold', rotate: 90 });
  });
  goTicks.forEach((t) => {
    g.append('line').attr('x1', x(t)).attr('x2', x(t)).attr('y1', 1067.9).attr('y2', 1070.5).attr('stroke', '#333').attr('stroke-width', 0.7);
    label(g, x(t), 1076.5, String(t), 12, { anchor: 'middle', weight: 'bold' });
  });
  label(g, 915, 1087.5, 'Count', 12.5, { anchor: 'middle', weight: 'bold' });

  const ly = d3.scaleLinear().domain([3e-11, 1.2e-10]).range([813.7, 865.8]);
  label(g, 1177.7, 788, 'p.adjust', 12.5, { weight: 'bold' });
  gradient(svg, 'goBar', [[0, '#D2605F'], [1, '#2F78B4']]);
  g.append('rect').attr('x', 1177.7).attr('y', 798.5).attr('width', 14.3).attr('height', 71.2).attr('fill', 'url(#goBar)');
  goPadjTicks.forEach((t, i) => label(g, 1197, ly(t), goPadjLabels[i], 12.5, { weight: 'bold' }));
}

function drawKegg(svg: Sel) {
  const g = svg.append('g');
  const left = 659.8, right = 1163.5, top = 1135.7, bottom = 1631.8;
  const x = d3.scaleLinear().domain([0.03, 0.12]).range([774.7, 1161.8]);
  const y = d3.scalePoint().domain(kegg).range([1142.7, 1624.5]);
  const size = d3.scaleSqrt().domain([12, 160]).range([2.8, 7]);

  keggMinor.forEach((t) => g.append('line').attr('x1', x(t)).attr('x2', x(t)).attr('y1', top).attr('y2', bottom).attr('stroke', '#F2F2F2').attr('stroke-width', 0.5));
  keggTicks.forEach((t) => g.append('line').attr('x1', x(t)).attr('x2', x(t)).attr('y1', top).attr('y2', bottom).attr('stroke', '#EBEBEB').attr('stroke-width', 0.8));
  kegg.forEach((term, i) => {
    const cy = y(term)!;
    g.append('line').attr('x1', left).attr('x2', right).attr('y1', cy).attr('y2', cy).attr('stroke', '#EBEBEB').attr('stroke-width', 0.9);
    g.append('line').attr('x1', left - 3).attr('x2', left).attr('y1', cy).attr('y2', cy).attr('stroke', '#333').attr('stroke-width', 0.7);
    label(g, left - 5.4, cy, term, 13.35, { anchor: 'end', weight: 'bold', fill: labelColors[keggTone[i]] });
    g.append('circle').attr('cx', x(keggRatio[i])).attr('cy', cy).attr('r', size(keggCount[i]))
      .attr('fill', keggBlue.includes(term) ? '#2F78B4' : '#D2605F').attr('stroke', '#333').attr('stroke-width', 0.9);
  });
  g.append('rect').attr('x', left).attr('y', top).attr('width', right - left).attr('height', bottom - top)
    .attr('fill', 'none').attr('stroke', '#AAA').attr('stroke-width', 1.4);
  keggTicks.forEach((t) => {
    g.append('line').attr('x1', x(t)).attr('x2', x(t)).attr('y1', bottom).attr('y2', bottom + 3).attr('stroke', '#333').attr('stroke-width', 0.7);
    label(g, x(t) + 1.5, 1639.5, t.toFixed(2), 10.8, { anchor: 'middle', weight: 'bold' });
  });
  label(g, 925.5, 1656.5, 'GeneRatio', 10.8, { anchor: 'middle', weight: 'bold' });

  label(g, 1177, 1297.5, 'p.adjust', 12.5, { weight: 'bold' });
  gradient(svg, 'keggBar', [[0, '#D2605F'], [1, '#2F78B4']]);
  g.append('rect').attr('x', 1177).attr('y', 1314.8).attr('width', 12).attr('height', 73).attr('fill', 'url(#keggBar)');
  keggPadjLabels.forEach((s, i) => label(g, 1192.6, 1312.6 + i * 18.08, s, 11.2, { weight: 'bold' }));
  label(g, 1177, 1409, 'Count', 12.5, { weight: 'bold' });
  keggSizeLegend.forEach((c, i) => {
    const ly = [1426.5, 1442, 1458.6][i];
    g.append('circle').attr('cx', 1184).attr('cy', ly).attr('r', size(c)).attr('fill', 'none').attr('stroke', '#555').attr('stroke-width', 0.8);
    label(g, 1195, ly - 0.5, String(c), 12, { weight: 'bold' });
  });
}

function drawHeat(svg: Sel) {
  const g = svg.append('g');
  const columns = pcaSamples;
  const x = d3.scaleBand().domain(columns).range([1341, 1462.7]);
  const y = d3.scaleBand<number>().domain(geneIds).range([82.3, 1624]);
  // pink side reaches its end colour earlier: the cells read stronger than the bar
  const color = d3.scaleLinear<string>().domain([-2.8, 0, 2]).range(['#2B8F8F', '#FFFFFF', '#E88080']);

  label(g, 1273, 40, 'Gene differential abundence of tobacco rhizosphere microorganisms', 12.2, { weight: 'bold' });

  columns.forEach((c) => {
    g.append('rect').attr('x', x(c)!).attr('y', 68).attr('width', x.bandwidth() + 0.3).attr('height', 11)
      .attr('fill', sampleGroupColors[sampleGroups.indexOf(c.slice(0, 2))]);
  });
  label(g, 1466.5, 73.5, 'sample_calss', 12.4, { weight: 'bold' });

  geneIds.forEach((id, r) => {
    g.append('rect').attr('x', 1328).attr('y', y(id)!).attr('width', 10).attr('height', y.bandwidth() + 0.3)
      .attr('fill', classColors[rowClass[r]]);
    columns.forEach((c, ci) => {
      const v = heatValues[r][ci];
      g.append('rect').attr('x', x(c)!).attr('y', y(id)!).attr('width', x.bandwidth() + 0.3).attr('height', y.bandwidth() + 0.3)
        .attr('fill', v === null ? '#DCDCDC' : color(v));
    });
    label(g, 1466.7, y(id)! + y.bandwidth() / 2, `G_${id}`, 12.4, { weight: 'bold', style: 'italic' });
  });

  // row dendrogram
  const h = d3.scaleLinear().domain([0, 54]).range([1326.7, 1272.7]);
  const path = d3.path();
  const walk = (n: TreeNode): { cy: number; ch: number } => {
    if (typeof n === 'number') {
      const id = geneIds[n - 1];
      return { cy: y(id)! + y.bandwidth() / 2, ch: 0 };
    }
    const [height, a, b] = n;
    const l = walk(a), r = walk(b);
    path.moveTo(h(l.ch), l.cy);
    path.lineTo(h(height), l.cy);
    path.lineTo(h(height), r.cy);
    path.lineTo(h(r.ch), r.cy);
    return { cy: (l.cy + r.cy) / 2, ch: height };
  };
  walk(rowTree);
  g.append('path').attr('d', path.toString()).attr('fill', 'none').attr('stroke', '#555').attr('stroke-width', 0.8);

  ['class', ...columns].forEach((c, i) => {
    const cx = i === 0 ? 1333 : x(c)! + x.bandwidth() / 2;
    label(g, cx + 2, 1630, c, 13.4, { anchor: 'end', weight: 'bold', style: 'italic', rotate: -60 });
  });

  // colour bar
  const by = d3.scaleLinear().domain([2, -2]).range([84, 212]);
  gradient(svg, 'heatBar', [[0, '#E88080'], [0.5, '#FFFFFF'], [1, '#2B8F8F']]);
  g.append('rect').attr('x', 1548).attr('y', 66.7).attr('width', 10.5).attr('height', 165).attr('fill', 'url(#heatBar)');
  heatTicks.forEach((t, i) => label(g, 1562.5, by(t), heatLabels[i], 12.5, { weight: 'bold' }));

  // legends
  label(g, 1581, 70, 'sample_calss', 13.3, { weight: 'bold' });
  sampleGroups.forEach((s, i) => {
    g.append('rect').attr('x', 1581).attr('y', 78.7 + i * 15.9).attr('width', 14).attr('height', 16).attr('fill', sampleGroupColors[i]);
    label(g, 1598, 86.5 + i * 15.9, s, 13.3, { weight: 'bold' });
  });
  label(g, 1581, 157, 'class', 13.3, { weight: 'bold' });
  classNames.forEach((s, i) => {
    g.append('rect').attr('x', 1581).attr('y', 165.3 + i * 15.85).attr('width', 14).attr('height', 16).attr('fill', classColors[i]);
    label(g, 1598, 172.6 + i * 15.85, s, 13.3, { weight: 'bold' });
  });
}

const App: React.FC = () => {
  const svgRef = useRef<SVGSVGElement>(null);

  useEffect(() => {
    if (!svgRef.current) return;
    const svg = d3.select(svgRef.current);
    svg.selectAll('*').remove();

    drawPCA(svg);
    drawCorr(svg);
    drawGO(svg);
    drawKegg(svg);
    drawHeat(svg);

    // panel letters
    ([['A', 7, 30], ['B', 604, 29], ['C', 6, 574], ['D', 7, 1123], ['E', 1231, 29]] as [string, number, number][]).forEach(([s, x, y]) => {
      svg.append('text').attr('x', x).attr('y', y).attr('font-family', FONT)
        .attr('font-size', 31).attr('font-weight', 'bold').text(s);
    });
  }, []);

  return (
    <svg
      ref={svgRef}
      width={1901}
      height={1668}
      style={{ position: 'absolute', left: 0, top: 0, background: '#fff' }}
    />
  );
};

export default App;
